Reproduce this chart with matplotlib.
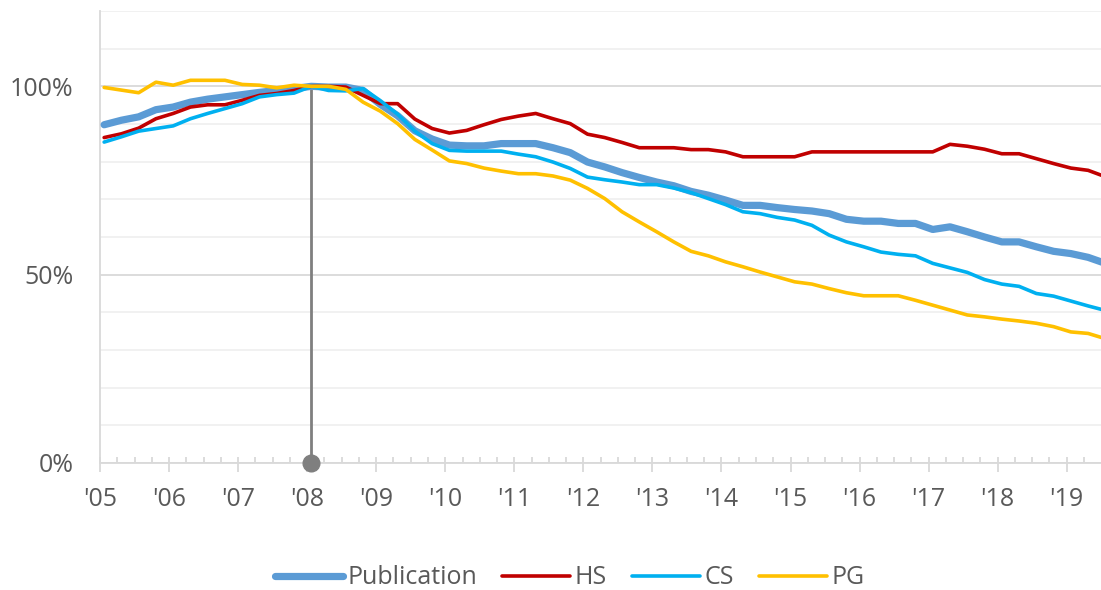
import numpy as np
import matplotlib
matplotlib.use("Agg")
import matplotlib.pyplot as plt
from matplotlib.ticker import FixedLocator, MultipleLocator

plt.rcParams['font.family'] = ['Open Sans', 'DejaVu Sans']

# ---------------- data (quarterly index, 2008 Q1 = 100%) ----------------
first_quarter = 2005.06          # position of first quarterly observation
n_quarters = 59
years = list(range(2005, 2020))
year_labels = ["'" + str(y)[2:] for y in years]

publication = [89.8, 91.0, 91.9, 93.8, 94.5, 95.8, 96.6, 97.2, 97.8, 98.4,
               98.9, 99.4, 100.0, 99.8, 99.8, 98.9, 95.2, 92.2, 88.2, 86.0,
               84.4, 84.2, 84.2, 84.8, 84.8, 84.8, 83.7, 82.4, 79.9, 78.6,
               77.1, 75.8, 74.6, 73.6, 72.1, 71.1, 69.8, 68.4, 68.4, 67.8,
               67.3, 66.9, 66.2, 64.7, 64.2, 64.2, 63.6, 63.6, 62.0, 62.7,
               61.4, 60.0, 58.7, 58.7, 57.4, 56.2, 55.6, 54.6, 53.0]

hs = [86.4, 87.4, 88.9, 91.4, 92.8, 94.5, 95.1, 95.1, 96.3, 97.6,
      98.1, 98.9, 100.0, 100.0, 99.8, 97.6, 95.4, 95.4, 91.3, 88.8,
      87.6, 88.3, 89.8, 91.2, 92.1, 92.8, 91.4, 90.1, 87.3, 86.4,
      85.1, 83.7, 83.7, 83.7, 83.2, 83.2, 82.6, 81.3, 81.3, 81.3,
      81.3, 82.6, 82.6, 82.6, 82.6, 82.6, 82.6, 82.6, 82.6, 84.6,
      84.1, 83.3, 82.1, 82.1, 80.8, 79.5, 78.3, 77.7, 76.0]

cs = [85.2, 86.6, 88.1, 88.8, 89.5, 91.4, 92.8, 94.1, 95.4, 97.2,
      97.8, 98.2, 100.0, 98.9, 98.8, 99.4, 96.2, 92.6, 88.1, 84.8,
      83.0, 82.8, 82.8, 82.8, 82.0, 81.3, 79.9, 78.2, 75.9, 75.2,
      74.6, 73.9, 73.9, 73.0, 71.8, 70.2, 68.6, 66.7, 66.2, 65.2,
      64.5, 63.1, 60.5, 58.7, 57.4, 56.0, 55.4, 55.0, 53.0, 51.8,
      50.6, 48.7, 47.5, 46.9, 45.0, 44.3, 43.0, 41.7, 40.5]

pg = [99.7, 99.0, 98.3, 101.1, 100.3, 101.6, 101.6, 101.6, 100.5, 100.3,
      99.6, 100.3, 100.0, 100.0, 99.2, 95.8, 93.4, 90.1, 85.9, 83.1,
      80.2, 79.5, 78.3, 77.5, 76.8, 76.8, 76.2, 75.1, 72.9, 70.2,
      66.7, 64.0, 61.4, 58.7, 56.2, 55.0, 53.4, 52.1, 50.7, 49.4,
      48.1, 47.5, 46.3, 45.2, 44.4, 44.4, 44.4, 43.2, 41.9, 40.6,
      39.3, 38.8, 38.2, 37.7, 37.1, 36.2, 34.8, 34.4, 33.0]

base_index = 12        # 2008 Q1 reference quarter
base_value = 100.0

series_names = ["Publication", "HS", "CS", "PG"]
series_values = [publication, hs, cs, pg]
series_colors = ["#5B9BD5", "#C00000", "#00B0F0", "#FFC000"]
series_widths = [5.2, 2.6, 2.6, 2.6]

x = first_quarter + 0.25 * np.arange(n_quarters)

# ---------------- figure ----------------
W, H = 1101, 590
fig = plt.figure(figsize=(W / 100, H / 100), dpi=100)
ax = fig.add_axes([100 / W, 1 - 463 / H, 1001 / W, (463 - 11) / H])

text_color = "#595959"
grid_major = "#D9D9D9"
grid_minor = "#F0F0F0"
fs = 18

ax.set_xlim(2005, 2005 + 1001 / 69.05)
ax.set_ylim(0, 120)

# gridlines
ax.yaxis.set_major_locator(FixedLocator([0, 50, 100]))
ax.yaxis.set_minor_locator(MultipleLocator(10))
ax.grid(which='major', axis='y', color=grid_major, lw=1.3, zorder=0)
ax.grid(which='minor', axis='y', color=grid_minor, lw=1.3, zorder=0)
ax.set_yticklabels([f"{v}%" for v in [0, 50, 100]])
ax.tick_params(axis='y', which='both', length=0, pad=19, labelsize=fs,
               labelcolor=text_color)

# x axis
ax.xaxis.set_major_locator(FixedLocator(years))
ax.set_xticklabels(year_labels)
ax.xaxis.set_minor_locator(MultipleLocator(0.25))
ax.xaxis.remove_overlapping_locs = False
ax.tick_params(axis='x', which='major', direction='out', length=6.5, width=1.3,
               color=grid_major, pad=11, labelsize=fs, labelcolor=text_color)
ax.tick_params(axis='x', which='minor', direction='in', length=4.5, width=1.3,
               color=grid_major)

for s in ['top', 'right']:
    ax.spines[s].set_visible(False)
for s in ['left', 'bottom']:
    ax.spines[s].set_color(grid_major)
    ax.spines[s].set_linewidth(1.3)

# reference line at 2008
ax.plot([x[base_index], x[base_index]], [0, base_value], color="#7F7F7F",
        lw=2.0, zorder=2, solid_capstyle='butt')
ax.plot([x[base_index]], [0], 'o', color="#7F7F7F", markersize=12,
        zorder=6, clip_on=False)

# series
for name, vals, col, lw in zip(series_names, series_values, series_colors, series_widths):
    ax.plot(x, vals, color=col, lw=lw, label=name, zorder=3,
            solid_capstyle='round', solid_joinstyle='round')

leg = fig.legend(loc='center', bbox_to_anchor=(570 / W, 1 - 578 / H),
                 ncol=4, frameon=False, fontsize=fs, handlelength=2.7,
                 handletextpad=0.2, columnspacing=1.0, borderaxespad=0)
for t in leg.get_texts():
    t.set_color(text_color)

fig.savefig("out.png", dpi=100)
